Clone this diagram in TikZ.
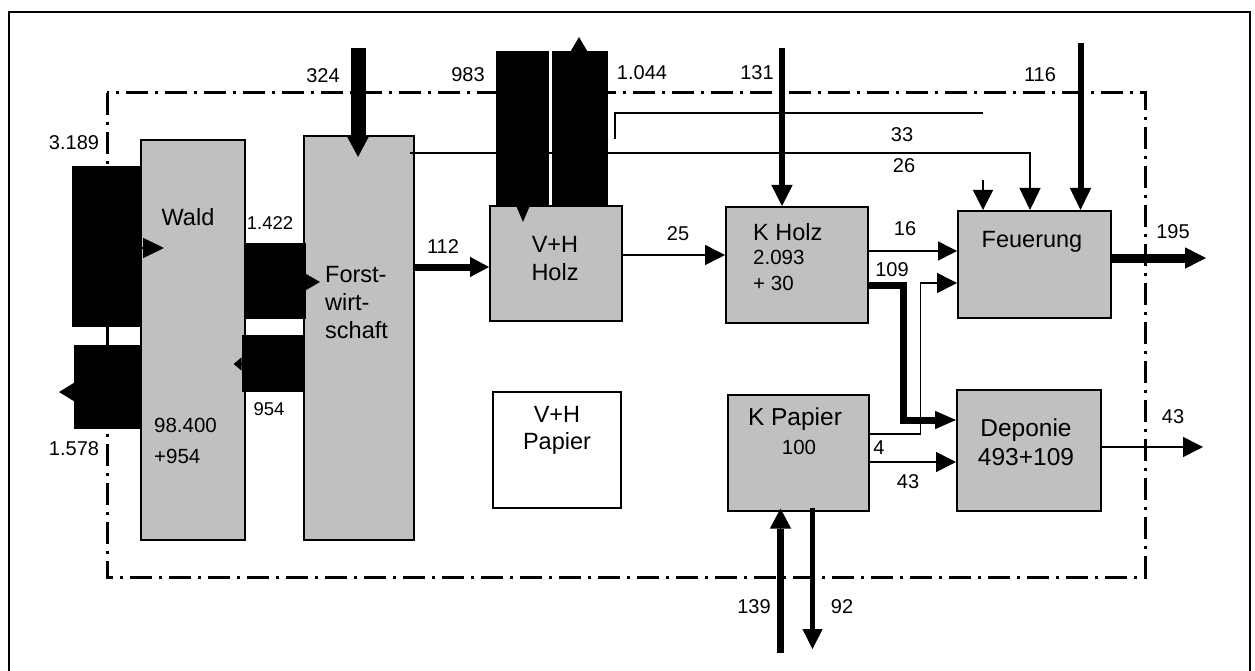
\documentclass[tikz,border=0pt]{standalone}
\usepackage{fontspec}
\setmainfont{Liberation Sans}
\usetikzlibrary{arrows.meta,calc,positioning}
\definecolor{boxgray}{RGB}{192,192,192}
\tikzset{blk/.style={draw, line width=1.6pt, fill=boxgray, anchor=north west, inner sep=0pt},
  txt/.style={inner sep=0pt, font=\fontsize{23.5}{28}\selectfont},
  num/.style={inner sep=0pt, font=\fontsize{20}{24}\selectfont},
  fat/.style={line width=#1},
  wire/.style={line width=1.5pt},
  flowtip/.style args={#1/#2}{-{Triangle[length=#1pt,width=#2pt]}},
  flowtip/.default=20/20,
  sysbound/.style={line width=3pt, dash pattern=on 22pt off 7pt on 3pt off 7pt}}

\begin{document}
\begin{tikzpicture}[x=1pt, y=-1pt]
  \useasboundingbox (0,0) rectangle (1255,671);
  \draw[line width=2pt] (9,671) -- (9,12) -- (1250,12) -- (1250,671);
  % system boundary
  \draw[sysbound] (107,93) rectangle (1145,577);

  % process boxes
  \node[blk, minimum width=104pt, minimum height=400pt] (wald) at (140,139) {};
  \node[blk, minimum width=110pt, minimum height=404pt] (forst) at (303,135) {};
  \node[blk, minimum width=132pt, minimum height=115pt] (vhholz) at (489,205) {};
  \node[blk, minimum width=142pt, minimum height=116pt] (kholz) at (725,206) {};
  \node[blk, minimum width=153pt, minimum height=107pt] (feuer) at (957,210) {};
  \node[blk, minimum width=141pt, minimum height=116pt] (kpapier) at (727,394) {};
  \node[blk, minimum width=144pt, minimum height=121pt] (deponie) at (956,389) {};
  \node[blk, fill=white, minimum width=128pt, minimum height=116pt] (vhpapier) at (492,391) {};

  \node[txt] (waldname) at (188,217) {Wald};
  \node[num, align=left, anchor=west, font=\fontsize{20.5}{31}\selectfont] (waldstock) at (154,441) {98.400\\+954};
  \node[txt, align=left, anchor=west] (forstname) at (325,303) {Forst-\\wirt-\\schaft};
  \node[txt, align=center] (vhholzname) at (555,259) {V+H\\Holz};
  \node[txt, anchor=west] (kholzname) at (753,232) {K Holz};
  \node[num, align=left, anchor=west, font=\fontsize{20.5}{26}\selectfont] (kholzstock) at (753,270) {2.093\\+ 30};
  \node[txt] (feuername) at (1032,242) {Feuerung};
  \node[txt, font=\fontsize{24.5}{28}\selectfont] (kpapiername) at (795,419) {K Papier};
  \node[num, font=\fontsize{20.5}{24}\selectfont] (kpapierstock) at (799,447) {100};
  \node[txt, align=center, font=\fontsize{24.5}{29}\selectfont] (deponiename) at (1026,442.5) {Deponie\\493+109};
  \node[txt, align=center, font=\fontsize{23.5}{27}\selectfont] (vhpapiername) at (557,430.5) {V+H\\Papier};

  % thin lines running above the boxes (under the wide bars)
  \coordinate (to26) at ($(feuer.north west)+(73,0)$);
  \draw[wire, flowtip=22/21] ($(forst.north east)+(-5,18)$) -| (to26);
  \coordinate (br) at (615,139);
  \coordinate (brend) at (983,113);
  \draw[wire] (br) |- (brend);
  \draw[wire, flowtip] ($(feuer.north west)+(26,-30)$) -- ($(feuer.north west)+(26,0)$);

  % wide flows in and out of Wald
  \coordinate (inwald) at (72,246.5);
  \draw[fat=161pt] (inwald) -- (inwald -| wald.west);
  \draw[wire, flowtip=21/20] ($(inwald -| wald.west)+(0,1.5)$) -- ++(24,0);
  \coordinate (outwald) at (74,387);
  \draw[fat=84pt] (outwald -| wald.west) -- (outwald);
  \draw[wire, flowtip=15/18] ($(outwald)+(1,5)$) -- ++(-16,0);
  \coordinate (w2f) at ($(wald.north east)+(0,142)$);
  \draw[fat=76pt] (w2f) -- ($(w2f -| forst.west)+(3,0)$);
  \draw[wire, flowtip=15/17] ($(w2f -| forst.west)+(2,1)$) -- ++(15,0);
  \coordinate (f2w) at ($(forst.north west)+(2,228.5)$);
  \draw[fat=57pt] (f2w) -- ($(f2w -| wald.east)+(-4,0)$);
  \draw[wire, flowtip=8/13] ($(f2w -| wald.east)+(-3,0.5)$) -- ++(-9,0);

  % from the top
  \coordinate (in324) at (358,48);
  \draw[fat=15pt] (in324) -- (in324 |- forst.north);
  \draw[wire, flowtip=21/22] ($(in324 |- forst.north)+(0,-1)$) -- ++(0,23);
  \coordinate (in983) at (522.5,51);
  \draw[fat=53pt] (in983) -- (in983 |- vhholz.north);
  \draw[wire, flowtip=17/14] ($(in983 |- vhholz.north)+(0.5,-1)$) -- ++(0,18);
  \coordinate (out1044) at (580,51);
  \draw[fat=56pt] (out1044 |- vhholz.north) -- (out1044);
  \draw[wire, flowtip=14/16] ($(out1044)+(-1,1)$) -- ++(0,-15);
  \coordinate (in131) at (782,48);
  \draw[fat=6pt] (in131) -- ($(in131 |- kholz.north)+(0,-19)$);
  \draw[wire, flowtip=21/21] ($(in131 |- kholz.north)+(0,-21)$) -- (in131 |- kholz.north);
  \coordinate (in116) at (1080.5,43);
  \draw[fat=6pt] (in116) -- ($(in116 |- feuer.north)+(0,-20)$);
  \draw[wire, flowtip=22/21] ($(in116 |- feuer.north)+(0,-22)$) -- (in116 |- feuer.north);

  % between the boxes
  \coordinate (f2v) at ($(forst.north east)+(0,132)$);
  \draw[fat=7pt] (f2v) -- ($(f2v -| vhholz.west)+(-18,0)$);
  \draw[wire, flowtip=19/20] ($(f2v -| vhholz.west)+(-19,0)$) -- (f2v -| vhholz.west);
  \draw[wire, flowtip] ($(vhholz.north east)+(0,50)$) -- ($(kholz.north west)+(0,49)$);
  \draw[wire, flowtip=19/19] ($(kholz.north east)+(0,45)$) -- ($(feuer.north west)+(0,41)$);
  \coordinate (k109) at ($(kholz.north east)+(0,79)$);
  \draw[fat=7pt] (k109) -- ++(35,0) |- ($(deponie.north west)+(-21,31)$);
  \draw[wire, flowtip=21/18] ($(deponie.north west)+(-22,31)$) -- ($(deponie.north west)+(0,31)$);
  \draw[wire, flowtip] ($(kpapier.north east)+(0,40)$) -- ++(51,0) |- ($(feuer.north west)+(0,73)$);
  \draw[wire, flowtip] ($(kpapier.north east)+(0,68)$) -- ($(deponie.north west)+(0,73)$);

  % out to the right and below
  \coordinate (out195) at (1206,258);
  \draw[fat=9pt] (out195 -| feuer.east) -- ($(out195)+(-20,0)$);
  \draw[wire, flowtip=21/21] ($(out195)+(-21,0)$) -- (out195);
  \coordinate (out43) at (1203,447);
  \draw[wire, flowtip] (out43 -| deponie.east) -- (out43);
  \coordinate (in139) at (780.5,653);
  \draw[fat=7pt] (in139) -- ($(in139 |- kpapier.south)+(0,17)$);
  \draw[wire, flowtip=20/21] ($(in139 |- kpapier.south)+(0,18)$) -- ($(in139 |- kpapier.south)+(0,-3)$);
  \coordinate (out92) at (812.5,649);
  \draw[fat=5pt] ($(out92 |- kpapier.south)+(0,-4)$) -- ($(out92)+(0,-19)$);
  \draw[wire, flowtip] ($(out92)+(0,-20)$) -- (out92);

  % flow values
  \node[num] (l3189) at (74,143) {3.189};
  \node[num] (l1578) at (74,449) {1.578};
  \node[num, font=\fontsize{18.5}{22}\selectfont] (l1422) at (270,223) {1.422};
  \node[num, font=\fontsize{18.5}{22}\selectfont] (l954) at (269,409) {954};
  \node[num] (l324) at (323,76) {324};
  \node[num] (l983) at (468,75) {983};
  \node[num] (l1044) at (642,73) {1.044};
  \node[num] (l131) at (757,73) {131};
  \node[num] (l116) at (1040,75) {116};
  \node[num] (l33) at (902,135) {33};
  \node[num] (l26) at (904,166) {26};
  \node[num] (l112) at (443,247) {112};
  \node[num] (l25) at (678,234) {25};
  \node[num] (l16) at (905,229) {16};
  \node[num] (l109) at (892,270) {109};
  \node[num] (l195) at (1173,232) {195};
  \node[num] (l4) at (879,448) {4};
  \node[num] (l43) at (908,482) {43};
  \node[num] (l43out) at (1173,417) {43};
  \node[num] (l139) at (754,607) {139};
  \node[num] (l92) at (842,607) {92};
\end{tikzpicture}
\end{document}
